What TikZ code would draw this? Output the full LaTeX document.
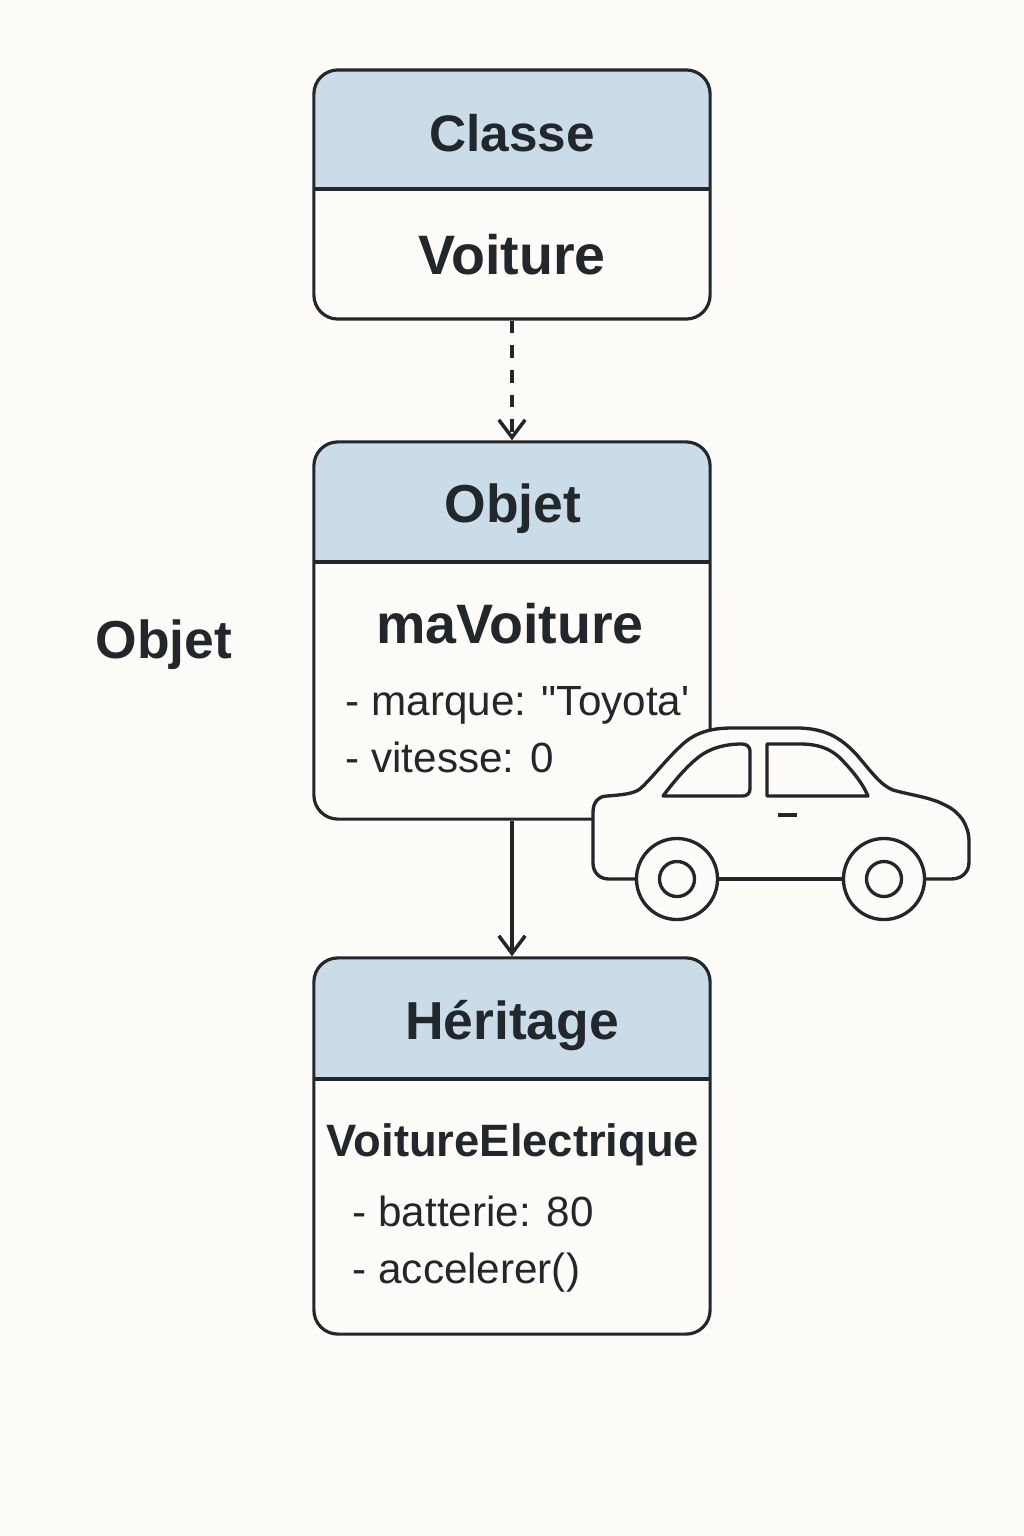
\documentclass[tikz,border=0pt]{standalone}
\usepackage{fontspec}
\setmainfont{Liberation Sans}
\usetikzlibrary{arrows.meta}

\definecolor{paper}{HTML}{FDFCF9}
\definecolor{headblue}{HTML}{CADCE8}
\definecolor{ink}{HTML}{22272B}

\tikzset{
  classbox/.style={draw=ink,line width=0.9pt,fill=paper,rounded corners=0.24cm,
    minimum width=3.96cm,inner sep=0pt,
    path picture={
      \fill[headblue,sharp corners] (path picture bounding box.north west) rectangle
        ([yshift=-#1]path picture bounding box.north east);
      \draw[ink,line width=0.9pt,sharp corners] ([yshift=-#1]path picture bounding box.north west) --
        ([yshift=-#1]path picture bounding box.north east);
    }},
  headtext/.style={anchor=base,text=ink,font=\fontsize{15.2}{17}\selectfont\bfseries,inner sep=0pt},
  nametext/.style={anchor=base,text=ink,font=\fontsize{15.8}{18}\selectfont\bfseries,inner sep=0pt},
  attrtext/.style={anchor=base west,text=ink,font=\fontsize{12}{14}\selectfont,inner sep=0pt},
  link/.style={ink,line width=1pt,-{Straight Barb[length=5pt,width=7.5pt]}},
  carline/.style={draw=ink,line width=0.95pt,line join=round}
}

\begin{document}
\begin{tikzpicture}[x=0.01cm,y=-0.01cm]

% Page
\fill[paper] (0,0) rectangle (1024,1536);
\useasboundingbox (0,0) rectangle (1024,1536);

% Boxes
\node[classbox=1.19cm,minimum height=2.49cm] (classe) at (512,194.5) {};
\node[classbox=1.20cm,minimum height=3.77cm] (objet) at (512,630.5) {};
\node[classbox=1.21cm,minimum height=3.76cm] (heritage) at (512,1146) {};

% Box titles
\node[headtext,font=\fontsize{14.6}{17}\selectfont\bfseries] (classetitle) at (512,151) {Classe};
\node[headtext] (objettitle) at (513,522) {Objet};
\node[headtext] (heritagetitle) at (512,1039.5) {Héritage};
\node[headtext] (objetside) at (164,658) {Objet};

% Box names
\node[nametext] (voiture) at (512,274.5) {Voiture};
\node[nametext] (mavoiture) at (510,643) {maVoiture};
\node[nametext,font=\fontsize{12.9}{15}\selectfont\bfseries] (electrique) at (513,1156) {VoitureElectrique};

% Attributes
\node[attrtext] (marque) at (345,715.5) {- marque: \textquotedbl Toyota\textquotesingle};
\node[attrtext] (vitesse) at (345,772.5) {- vitesse: 0};
\node[attrtext] (batterie) at (352,1226.5) {- batterie: 80};
\node[attrtext] (accelerer) at (352,1283.5) {- accelerer()};

% Connectors
\draw[link,dashed,dash pattern=on 3.6pt off 3.4pt] (classe) -- (objet);
\draw[link] (objet) -- (heritage);

% Car body
\draw[carline,fill=paper] (637,879) -- (609,879)
  .. controls (599,879) and (593,872) .. (593,863) -- (593,812)
  .. controls (593,802) and (599,796) .. (607,796)
  .. controls (620,795) and (635,794) .. (641,788)
  .. controls (652,778) and (668,757) .. (684,743)
  .. controls (697,732) and (712,728) .. (732,728) -- (800,728)
  .. controls (825,729) and (840,737) .. (856,754)
  .. controls (870,770) and (880,785) .. (893,790)
  .. controls (910,795) and (930,797) .. (945,805)
  .. controls (960,812) and (969,825) .. (969,842) -- (969,862)
  .. controls (969,872) and (962,879) .. (951,879) -- (925,879);
\draw[carline] (718,879) -- (844,879);

% Car windows
\draw[carline] (663,796) .. controls (675,780) and (688,765) .. (700,756)
  .. controls (711,748) and (725,744) .. (742,744)
  .. controls (747,744) and (750,747) .. (750,751) -- (750,789)
  .. controls (750,793) and (747,796) .. (743,796) -- cycle;
\draw[carline] (767,744) -- (800,744)
  .. controls (817,744) and (829,748) .. (839,757)
  .. controls (851,769) and (862,782) .. (868,796) -- (767,796) -- cycle;

% Door handle
\draw[carline] (778,815) -- (797,815);

% Wheels
\foreach \wx in {677,884} {
  \draw[carline,fill=paper] (\wx,879) circle (0.405cm);
  \draw[carline] (\wx,879) circle (0.175cm);
}

\end{tikzpicture}
\end{document}
